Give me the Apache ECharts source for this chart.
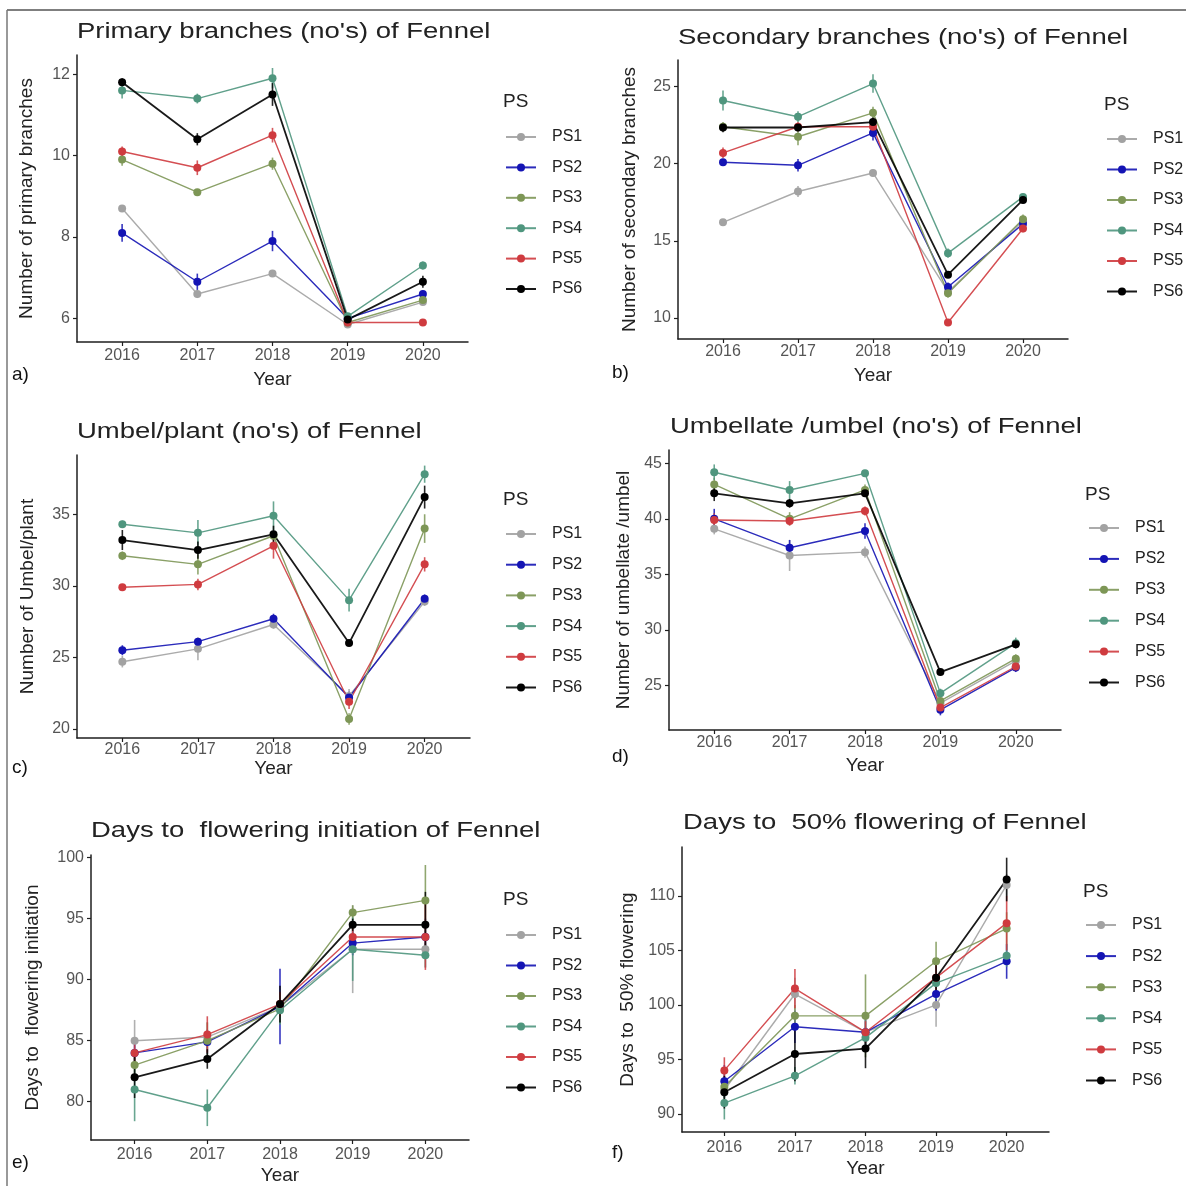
<!DOCTYPE html>
<html>
<head>
<meta charset="utf-8">
<script src="https://cdn.jsdelivr.net/npm/echarts@6.0.0/dist/echarts.min.js"></script>
<style>
html, body { margin: 0; padding: 0; background: #ffffff; }
#chart { width: 1186px; height: 1186px; }
</style>
</head>
<body>
<div id="chart"></div>
<script>
// 六个小图：茴香各性状在 2016-2020 年的均值与误差线
const 年份 = [2016, 2017, 2018, 2019, 2020]
const 处理名 = ['PS1', 'PS2', 'PS3', 'PS4', 'PS5', 'PS6']

// a) 一级分枝
const 一级分枝均值 = [
  [8.7, 6.6, 7.1, 5.85, 6.4],
  [8.1, 6.9, 7.9, 6.0, 6.6],
  [9.9, 9.1, 9.8, 5.9, 6.45],
  [11.6, 11.4, 11.9, 6.05, 7.3],
  [10.1, 9.7, 10.5, 5.9, 5.9],
  [11.8, 10.4, 11.5, 5.97, 6.9],
]
const 一级分枝误差 = [
  [0.05, 0.1, 0.05, 0.05, 0.05],
  [0.22, 0.2, 0.25, 0.05, 0.08],
  [0.15, 0.05, 0.15, 0.05, 0.08],
  [0.2, 0.12, 0.25, 0.08, 0.1],
  [0.12, 0.18, 0.18, 0.05, 0.05],
  [0.1, 0.15, 0.28, 0.05, 0.15],
]
const 一级分枝刻度 = [6, 8, 10, 12]

// b) 二级分枝
const 二级分枝均值 = [
  [16.2, 18.2, 19.4, 11.7, 16.3],
  [20.1, 19.9, 22.0, 12.0, 16.1],
  [22.4, 21.75, 23.3, 11.6, 16.4],
  [24.1, 23.05, 25.2, 14.2, 17.85],
  [20.7, 22.4, 22.4, 9.7, 15.8],
  [22.35, 22.35, 22.7, 12.8, 17.65],
]
const 二级分枝误差 = [
  [0.1, 0.35, 0.15, 0.2, 0.2],
  [0.2, 0.4, 0.5, 0.3, 0.2],
  [0.3, 0.55, 0.4, 0.3, 0.3],
  [0.65, 0.35, 0.6, 0.3, 0.2],
  [0.35, 0.3, 0.3, 0.2, 0.25],
  [0.3, 0.25, 0.3, 0.2, 0.2],
]
const 二级分枝刻度 = [10, 15, 20, 25]

// c) 每株伞数
const 每株伞数均值 = [
  [24.7, 25.6, 27.3, 22.3, 28.9],
  [25.5, 26.1, 27.7, 22.2, 29.1],
  [32.1, 31.5, 33.5, 20.7, 34.0],
  [34.3, 33.7, 34.9, 29.0, 37.8],
  [29.9, 30.1, 32.8, 21.9, 31.5],
  [33.2, 32.5, 33.6, 26.0, 36.2],
]
const 每株伞数误差 = [
  [0.4, 0.8, 0.3, 0.5, 0.3],
  [0.35, 0.25, 0.35, 0.4, 0.3],
  [0.3, 0.7, 0.3, 0.4, 1.0],
  [0.25, 0.9, 1.0, 0.8, 0.6],
  [0.2, 0.4, 0.9, 0.5, 0.5],
  [0.7, 0.6, 0.6, 0.2, 0.8],
]
const 每株伞数刻度 = [20, 25, 30, 35]

// d) 每伞小伞数
const 每伞小伞数均值 = [
  [39.1, 36.7, 37.0, 23.4, 27.2],
  [40.0, 37.4, 38.9, 22.8, 26.6],
  [43.1, 40.0, 42.6, 23.6, 27.4],
  [44.2, 42.6, 44.1, 24.3, 28.8],
  [39.9, 39.8, 40.7, 23.0, 26.7],
  [42.3, 41.4, 42.3, 26.2, 28.7],
]
const 每伞小伞数误差 = [
  [0.5, 1.4, 0.5, 0.4, 0.4],
  [0.9, 0.7, 0.7, 0.5, 0.4],
  [0.6, 0.6, 0.5, 0.4, 0.4],
  [0.7, 0.8, 0.3, 0.4, 0.5],
  [0.6, 0.4, 0.4, 0.4, 0.4],
  [0.7, 0.4, 0.3, 0.3, 0.3],
]
const 每伞小伞数刻度 = [25, 30, 35, 40, 45]

// e) 始花天数
const 始花天数均值 = [
  [85.0, 85.3, 87.8, 92.5, 92.5],
  [84.0, 84.9, 87.8, 93.0, 93.5],
  [83.0, 85.0, 87.6, 95.5, 96.5],
  [81.0, 79.5, 87.5, 92.5, 92.0],
  [84.0, 85.5, 88.0, 93.5, 93.5],
  [82.0, 83.5, 88.0, 94.5, 94.5],
]
const 始花天数误差 = [
  [1.7, 1.2, 1.0, 3.6, 1.5],
  [1.0, 1.0, 3.1, 1.0, 1.5],
  [1.2, 1.5, 1.2, 0.6, 2.9],
  [2.6, 1.5, 1.2, 2.6, 1.0],
  [1.2, 1.5, 1.0, 1.0, 2.7],
  [1.7, 0.8, 1.5, 0.5, 2.7],
]
const 始花天数刻度 = [80, 85, 90, 95, 100]

// f) 50% 开花天数
const 半数开花均值 = [
  [92.2, 101.0, 97.5, 100.0, 111.0],
  [93.0, 98.0, 97.5, 101.0, 104.0],
  [92.5, 99.0, 99.0, 104.0, 107.0],
  [91.0, 93.5, 97.0, 102.0, 104.5],
  [94.0, 101.5, 97.5, 102.5, 107.5],
  [92.0, 95.5, 96.0, 102.5, 111.5],
]
const 半数开花误差 = [
  [1.2, 1.5, 1.5, 2.0, 1.0],
  [1.5, 1.5, 1.7, 1.5, 1.6],
  [1.0, 1.0, 3.8, 1.8, 1.5],
  [1.5, 0.8, 1.0, 1.5, 1.0],
  [1.2, 1.8, 1.0, 1.5, 2.5],
  [1.5, 2.5, 1.8, 1.5, 2.0],
]
const 半数开花刻度 = [90, 95, 100, 105, 110]

const 处理颜色 = ['#a2a2a2', '#1414b4', '#7d9656', '#4f967e', '#cf3b3f', '#000000']
const 字体 = '"Liberation Sans", Arial, sans-serif'
const 轴颜色 = '#1f1f1f'
const 标签颜色 = '#555555'

const 面板列表 = [
  {
    标题: "Primary branches (no's) of Fennel", y名: 'Number of primary branches',
    均值: 一级分枝均值, 误差: 一级分枝误差, 刻度: 一级分枝刻度, 最小: 5.42, 最大: 12.47,
    网格: { left: 77, top: 55, width: 391, height: 287 },
    标题位置: [77, 32], 编号: 'a)', 编号位置: [12, 375],
    图例: [505, 137, 30.5], 图例标题: [503, 102], y名间距: 41, x名间距: 28, 标签间距: 6,
  },
  {
    标题: "Secondary branches (no's) of Fennel", y名: 'Number of secondary branches',
    均值: 二级分枝均值, 误差: 二级分枝误差, 刻度: 二级分枝刻度, 最小: 8.63, 最大: 26.73,
    网格: { left: 678, top: 60, width: 390, height: 279 },
    标题位置: [678, 38], 编号: 'b)', 编号位置: [612, 373],
    图例: [1106, 139, 30.6], 图例标题: [1104, 105], y名间距: 39, x名间距: 27, 标签间距: 5,
  },
  {
    标题: "Umbel/plant (no's) of Fennel", y名: 'Number of Umbel/plant',
    均值: 每株伞数均值, 误差: 每株伞数误差, 刻度: 每株伞数刻度, 最小: 19.37, 最大: 39.14,
    网格: { left: 77, top: 455, width: 393, height: 283 },
    标题位置: [77, 432], 编号: 'c)', 编号位置: [12, 768],
    图例: [505, 534, 30.8], 图例标题: [503, 500], y名间距: 40, x名间距: 20, 标签间距: 4,
  },
  {
    标题: "Umbellate /umbel (no's) of Fennel", y名: 'Number of umbellate /umbel',
    均值: 每伞小伞数均值, 误差: 每伞小伞数误差, 刻度: 每伞小伞数刻度, 最小: 20.98, 最大: 46.2,
    网格: { left: 669, top: 450, width: 392, height: 280 },
    标题位置: [670, 427], 编号: 'd)', 编号位置: [612, 757],
    图例: [1088, 528, 31], 图例标题: [1085, 495], y名间距: 36, x名间距: 26, 标签间距: 5,
  },
  {
    标题: 'Days to  flowering initiation of Fennel', y名: 'Days to  flowering initiation',
    均值: 始花天数均值, 误差: 始花天数误差, 刻度: 始花天数刻度, 最小: 76.86, 最大: 100.22,
    网格: { left: 91, top: 855, width: 378, height: 285 },
    标题位置: [91, 831], 编号: 'e)', 编号位置: [12, 1163],
    图例: [505, 935, 30.6], 图例标题: [503, 900], y名间距: 49, x名间距: 26, 标签间距: 7,
  },
  {
    标题: 'Days to  50% flowering of Fennel', y名: 'Days to  50% flowering',
    均值: 半数开花均值, 误差: 半数开花误差, 刻度: 半数开花刻度, 最小: 88.35, 最大: 114.48,
    网格: { left: 682, top: 847, width: 367, height: 285 },
    标题位置: [683, 823], 编号: 'f)', 编号位置: [612, 1153],
    图例: [1085, 925, 31.2], 图例标题: [1083, 892], y名间距: 45, x名间距: 27, 标签间距: 8,
  },
]

function 构建x轴(面板, 索引) {
  return {
    type: 'value',
    gridIndex: 索引,
    min: 2015.4,
    max: 2020.6,
    name: 'Year',
    nameLocation: 'middle',
    nameGap: 面板.x名间距,
    nameTextStyle: { color: '#222222', fontSize: 19, fontFamily: 字体, verticalAlign: 'top' },
    splitLine: { show: false },
    axisLine: { onZero: false, lineStyle: { color: 轴颜色, width: 1.5 } },
    axisTick: { show: true, length: 4, customValues: 年份, lineStyle: { color: 轴颜色, width: 1.2 } },
    axisLabel: {
      customValues: 年份,
      margin: 面板.标签间距,
      color: 标签颜色,
      fontSize: 16,
      fontFamily: 字体,
      formatter: (值) => String(值),
    },
  }
}

function 构建y轴(面板, 索引) {
  return {
    type: 'value',
    gridIndex: 索引,
    min: 面板.最小,
    max: 面板.最大,
    name: 面板.y名,
    nameLocation: 'middle',
    nameGap: 面板.y名间距,
    nameRotate: 90,
    nameMoveOverlap: false,
    nameTextStyle: { color: '#222222', fontSize: 19, fontFamily: 字体 },
    splitLine: { show: false },
    axisLine: { show: true, onZero: false, lineStyle: { color: 轴颜色, width: 1.5 } },
    axisTick: { show: true, length: 4, customValues: 面板.刻度, lineStyle: { color: 轴颜色, width: 1.2 } },
    axisLabel: {
      customValues: 面板.刻度,
      margin: 7,
      color: 标签颜色,
      fontSize: 16,
      fontFamily: 字体,
      formatter: (值) => String(值),
    },
  }
}

function 构建系列(面板, 索引) {
  const 系列 = []
  处理名.forEach((名, 序) => {
    const 颜色 = 处理颜色[序]
    const 均值 = 面板.均值[序]
    const 误差 = 面板.误差[序]
    // 误差线
    系列.push({
      type: 'custom',
      name: `${名} 误差`,
      xAxisIndex: 索引,
      yAxisIndex: 索引,
      silent: true,
      data: 年份.map((年, k) => [年, 均值[k] - 误差[k], 均值[k] + 误差[k]]),
      encode: { x: 0, y: [1, 2] },
      renderItem(参数, api) {
        const 下 = api.coord([api.value(0), api.value(1)])
        const 上 = api.coord([api.value(0), api.value(2)])
        return {
          type: 'line',
          shape: { x1: 下[0], y1: 下[1], x2: 上[0], y2: 上[1] },
          style: { stroke: 颜色, lineWidth: 1.6, opacity: 0.85 },
        }
      },
    })
    系列.push({
      type: 'line',
      name: 名,
      xAxisIndex: 索引,
      yAxisIndex: 索引,
      data: 年份.map((年, k) => [年, 均值[k]]),
      symbol: 'circle',
      symbolSize: 8,
      showSymbol: true,
      silent: true,
      itemStyle: { color: 颜色 },
      lineStyle: { color: 颜色, width: 序 === 5 ? 1.8 : 1.4, opacity: 0.9 },
      emphasis: { disabled: true },
    })
  })
  return 系列
}

function 构建图例(面板) {
  const [左, 首项, 步长] = 面板.图例
  // 图例每项实际高度约 16px（文字高度决定）
  return {
    data: 处理名,
    orient: 'vertical',
    left: 左,
    top: 首项 - 8,
    padding: 0,
    itemWidth: 30,
    itemHeight: 10,
    itemGap: 步长 - 16.1,
    selectedMode: false,
    textStyle: { color: '#222222', fontSize: 16, fontFamily: 字体, padding: [0, 0, 0, 11] },
  }
}

function 构建文字(面板) {
  return [
    {
      type: 'text',
      x: 面板.标题位置[0],
      y: 面板.标题位置[1],
      scaleX: 1.25,
      style: { text: 面板.标题, fontSize: 22, fontFamily: 字体, fill: '#222222', verticalAlign: 'middle' },
    },
    {
      type: 'text',
      x: 面板.编号位置[0],
      y: 面板.编号位置[1],
      style: { text: 面板.编号, fontSize: 19, fontFamily: 字体, fill: '#111111', verticalAlign: 'middle' },
    },
    {
      type: 'text',
      x: 面板.图例标题[0],
      y: 面板.图例标题[1],
      style: { text: 'PS', fontSize: 19, fontFamily: 字体, fill: '#222222', verticalAlign: 'middle' },
    },
  ]
}

const 图表 = echarts.init(document.getElementById('chart'))
图表.setOption({
  animation: false,
  backgroundColor: '#ffffff',
  textStyle: { fontFamily: 字体 },
  grid: 面板列表.map((面板) => ({ ...面板.网格, containLabel: false, outerBoundsMode: 'none' })),
  xAxis: 面板列表.map(构建x轴),
  yAxis: 面板列表.map(构建y轴),
  legend: 面板列表.map(构建图例),
  series: 面板列表.flatMap(构建系列),
  graphic: [
    // 外框：上边与左边
    { type: 'line', shape: { x1: 7, y1: 10, x2: 1186, y2: 10 }, style: { stroke: '#555555', lineWidth: 1.5 } },
    { type: 'line', shape: { x1: 7, y1: 10, x2: 7, y2: 1186 }, style: { stroke: '#777777', lineWidth: 1.5 } },
    ...面板列表.flatMap(构建文字),
  ],
})
</script>
</body>
</html>
